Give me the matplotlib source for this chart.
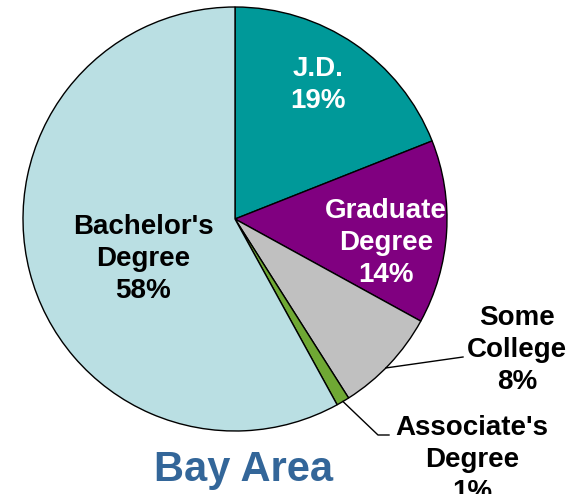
import numpy as np
import matplotlib
matplotlib.use("Agg")
import matplotlib.pyplot as plt

plt.rcParams["font.family"] = ["Liberation Sans", "DejaVu Sans"]

# data
categories = ["J.D.", "Graduate\nDegree", "Some\nCollege", "Associate's\nDegree", "Bachelor's\nDegree"]
shares = [19, 14, 8, 1, 58]
colors = ["#009999", "#800080", "#C0C0C0", "#6FA834", "#BADFE3"]
title = "Bay Area"

W, H = 583, 494
CX, CY, R = 235, 219, 212  # pie centre/radius in pixel coords (y from top)


def py(y):
    return H - y


fig = plt.figure(figsize=(W / 100, H / 100), dpi=100)
ax = fig.add_axes([0, 0, 1, 1])

wedges, _ = ax.pie(
    shares,
    colors=colors,
    startangle=90,
    counterclock=False,
    center=(CX, py(CY)),
    radius=R,
    wedgeprops=dict(edgecolor="black", linewidth=1.0),
    frame=True,
)
ax.set_xlim(0, W)
ax.set_ylim(0, H)
ax.set_aspect("equal")
ax.axis("off")

labels = [f"{c}\n{s}%" for c, s in zip(categories, shares)]
label_pos = [(318, 85), (386, 243), (517, 350), (472, 460), (143, 259)]
label_col = ["white", "white", "black", "black", "black"]

for lab, (x, y), col in zip(labels, label_pos, label_col):
    ax.text(x, py(y), lab, ha="center", va="center", color=col,
            fontsize=20, fontweight="bold", linespacing=1.32)


def edge_point(w, frac=0.5):
    ang = np.deg2rad(w.theta1 + (w.theta2 - w.theta1) * frac)
    return CX + R * np.cos(ang), py(CY) + R * np.sin(ang)


# leader lines
x0, y0 = edge_point(wedges[2], 0.45)
ax.plot([x0, 463], [y0, py(357)], color="black", lw=1.0)
x0, y0 = edge_point(wedges[3], 0.5)
ax.plot([x0, 378, 389], [y0, py(435), py(435)], color="black", lw=1.0)

ax.text(244, py(470), title, ha="center", va="center", color="#336699",
        fontsize=30, fontweight="bold")

fig.savefig("out.png", dpi=100)
